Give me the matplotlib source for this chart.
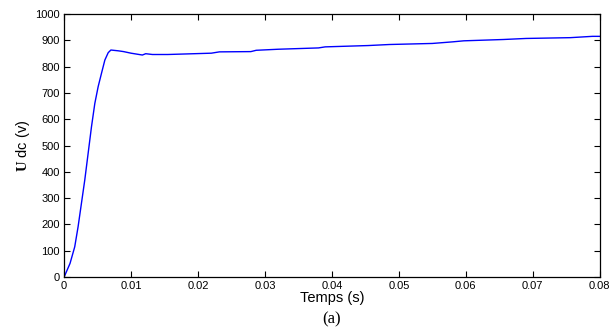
import numpy as np
import matplotlib

matplotlib.use("Agg")
import matplotlib.pyplot as plt

plt.rcParams["font.family"] = ["Liberation Sans", "DejaVu Sans"]
plt.rcParams["mathtext.fontset"] = "custom"
plt.rcParams["mathtext.bf"] = "Liberation Serif:bold"
plt.rcParams["mathtext.rm"] = "Liberation Sans"

t = [0.0, 0.00015, 0.0009, 0.0016, 0.0021, 0.0026, 0.0031, 0.0036, 0.0041,
     0.0046, 0.0051, 0.0056, 0.0061, 0.0066, 0.0070, 0.0081, 0.0089, 0.0100,
     0.0117, 0.0122, 0.0132, 0.0155, 0.0220, 0.0232, 0.0279, 0.0287, 0.0320,
     0.0380, 0.0390, 0.0454, 0.0486, 0.0550, 0.0580, 0.0597, 0.0656, 0.0690,
     0.0756, 0.0789, 0.0800]
u_dc = [0, 8, 52, 115, 191, 280, 369, 470, 571,
        660, 724, 775, 825, 853, 863, 860, 857, 851,
        844, 849, 846, 846, 851, 856, 857, 862, 866,
        871, 875, 880, 884, 888, 894, 898, 903, 907,
        910, 915, 915]

x_ticks = [0, 0.01, 0.02, 0.03, 0.04, 0.05, 0.06, 0.07, 0.08]
x_tick_labels = ["0", "0.01", "0.02", "0.03", "0.04", "0.05", "0.06", "0.07", "0.08"]
y_ticks = list(range(0, 1001, 100))

fig = plt.figure(figsize=(6.12, 3.33), dpi=100)
ax = fig.add_axes([0.1046, 0.168, 0.8754, 0.79])
ax.plot(t, u_dc, color="#0000ff", linewidth=1.0)

ax.set_xlim(0, 0.08)
ax.set_ylim(0, 1000)
ax.set_xticks(x_ticks)
ax.set_xticklabels(x_tick_labels)
ax.set_yticks(y_ticks)
ax.tick_params(direction="in", top=True, right=True, labelsize=8, length=4, width=0.8, pad=3)
for sp in ax.spines.values():
    sp.set_linewidth(0.9)

ax.set_xlabel("Temps (s)", fontsize=10.5, labelpad=0)
ax.set_ylabel(r"$\mathbf{U}$ dc (v)", fontsize=10.5, labelpad=2)
fig.text(0.542, 0.04, "(a)", fontsize=12, family="Liberation Serif", ha="center", va="center")

fig.savefig("out.png", dpi=100)
